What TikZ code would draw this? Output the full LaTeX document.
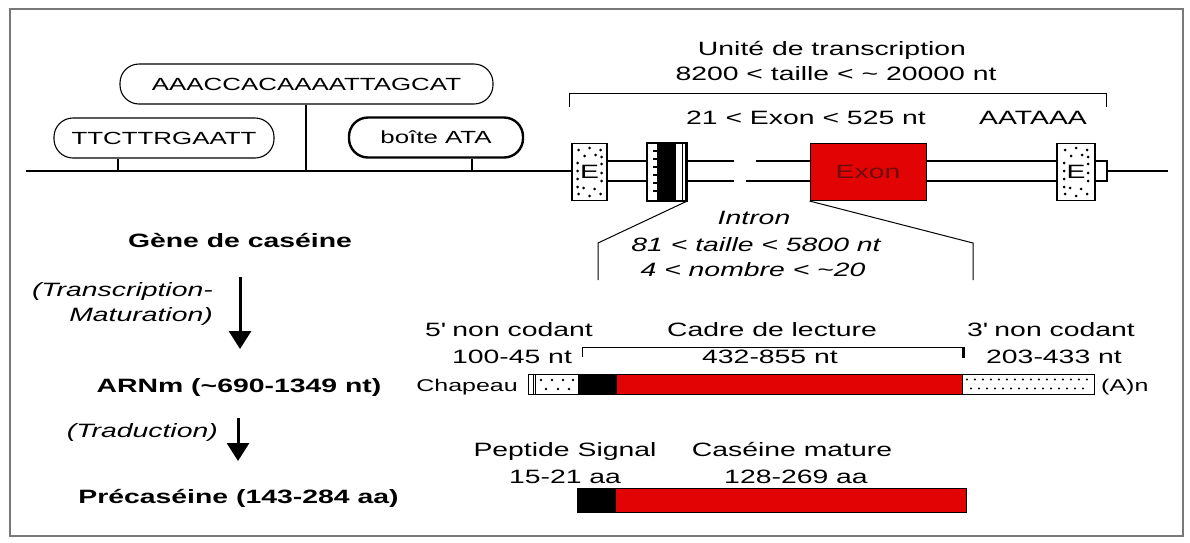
\documentclass[tikz,border=0pt]{standalone}
\usepackage{fontspec}
\setmainfont{Liberation Sans}[FakeStretch=1.47]
\usetikzlibrary{arrows.meta}
\definecolor{exred}{RGB}{226,4,4}
\definecolor{exdark}{RGB}{110,10,10}
\definecolor{framegray}{RGB}{120,120,120}
\begin{document}
\begin{tikzpicture}[x=1pt,y=-1pt,
 lbl/.style={inner sep=0pt, text height=13.8pt, text depth=0pt, font=\fontsize{19.3}{22}\selectfont},
 blbl/.style={lbl, font=\fontsize{19.3}{22}\selectfont\bfseries},
 ilbl/.style={lbl, font=\fontsize{19.3}{22}\selectfont\itshape},
 slbl/.style={inner sep=0pt, text height=12pt, text depth=0pt, font=\fontsize{17}{20}\selectfont},
 pill/.style={draw, line width=1.1pt, rounded corners=19pt, inner sep=0pt, minimum height=40pt, text height=12.6pt, text depth=0pt, font=\fontsize{17.6}{21}\selectfont},
 ln/.style={line width=1.5pt},
 thinln/.style={line width=1pt},
 ebox/.style={draw, fill=white, line width=1.5pt, inner sep=0pt, minimum width=35pt, minimum height=57pt},
 arr/.style={line width=3pt, -{Triangle[width=22pt,length=18pt]}},
]
\useasboundingbox (0,0) rectangle (1190,542);
\draw[framegray, line width=2pt] (10,9) rectangle (1183,536);

% ---------------- promoter region ----------------
\node[pill, minimum width=373pt] (p2) at (306.5,84) {AAACCACAAAATTAGCAT};
\node[pill, minimum width=220pt] (p1) at (164,138) {TTCTTRGAATT};
\node[pill, minimum width=174pt, line width=2.4pt] (p3) at (436,137.5) {boîte ATA};
\coordinate (L0) at (26,171);
\coordinate (s1) at (118,171);
\coordinate (s2) at (306,171);
\coordinate (s3) at (472,171);
\draw[ln] (s1) -- (s1 |- p1.south);
\draw[ln] (s2) -- (s2 |- p2.south);
\draw[ln] (s3) -- (s3 |- p3.south);

% ---------------- gene structure ----------------
\coordinate (yu) at (0,161);
\coordinate (yl) at (0,181);
\node[ebox] (E1) at (589.5,172) {};
\node[draw, fill=white, line width=1.5pt, inner sep=0pt, minimum width=39pt, minimum height=57pt] (B) at (666.5,172) {};
\node[draw, fill=exred, line width=1pt, inner sep=0pt, minimum width=116pt, minimum height=57pt, text height=13.8pt, text depth=0pt, font=\fontsize{19.3}{22}\selectfont, text=exdark] (X) at (868,172) {Exon};
\node[ebox, minimum width=38pt] (E2) at (1076,172) {};
\node[draw, fill=white, line width=1.5pt, inner sep=0pt, minimum width=12pt, minimum height=20pt] (T) at (1101,171) {};
\coordinate (R0) at (1168,171);
\coordinate (g1) at (734,161);
\coordinate (g2) at (734,181);
\coordinate (g3) at (756,161);
\coordinate (g4) at (746,181);

\draw[ln] (L0) -- (L0 -| E1.west);
\draw[ln] (E1.east |- yu) -- (B.west |- yu);
\draw[ln] (E1.east |- yl) -- (B.west |- yl);
\draw[ln] (B.east |- yu) -- (g1);
\draw[ln] (B.east |- yl) -- (g2);
\draw[ln] (g3) -- (X.west |- yu);
\draw[ln] (g4) -- (X.west |- yl);
\draw[ln] (X.east |- yu) -- (E2.west |- yu);
\draw[ln] (X.east |- yl) -- (E2.west |- yl);
\draw[ln] (T.east) -- (R0);

% E boxes: dots and letter
\foreach \b in {E1,E2}{
  \foreach \dx/\dy in {-11/-22,0/-24,11/-22,-5/-16,6/-17,-12/-9,12/-8,-12/7,12/9,-6/16,5/17,-11/22,0/24,11/22,12/-15,-12/15,-12/-1,12/1}
    \fill[shift={(\b.center)}] (\dx,\dy) circle (1.5pt);
  \node[lbl] at (\b.center) {E};
}
% black hatched box
\fill[black] (657,143.5) rectangle (676,200.5);
\draw[line width=1pt] (682,143.5) -- (682,200.5);
\foreach \yy in {151,159,167,175,183,191}
  \draw[line width=1.2pt] (653,\yy) -- (657,\yy);
\draw[line width=1.5pt] (B.north west) rectangle (B.south east);

% transcription unit bracket
\coordinate (u1) at (569,107);
\coordinate (u2) at (569,93);
\coordinate (u3) at (1106,93);
\coordinate (u4) at (1106,107);
\draw[thinln] (u1) -- (u2) -- (u3) -- (u4);
\node[lbl] (tunit) at (832,49) {Unité de transcription};
\node[lbl] (tsize) at (836,74) {8200 < taille < \textasciitilde{} 20000 nt};
\node[lbl] (texon) at (806,118) {21 < Exon < 525 nt};
\node[lbl] (taat) at (1033,118) {AATAAA};

% intron
\coordinate (i1) at (598,243);
\coordinate (i2) at (598,280);
\coordinate (i3) at (973,243);
\coordinate (i4) at (973,280);
\draw[thinln] (B.south east) -- (i1) -- (i2);
\draw[thinln] (X.south west) -- (i3) -- (i4);
\node[ilbl] (tin1) at (754,218) {Intron};
\node[ilbl] (tin2) at (756,245) {81 < taille < 5800 nt};
\node[ilbl] (tin3) at (753,270) {4 < nombre < \textasciitilde20};

% ---------------- left column ----------------
\node[blbl] (gene) at (240,241) {Gène de caséine};
\node[ilbl, anchor=east] (ttr1) at (213,290) {(Transcription-};
\node[ilbl, anchor=east] (ttr2) at (213,315) {Maturation)};
\node[blbl] (arn) at (239,386) {ARNm (\textasciitilde690-1349 nt)};
\node[ilbl, anchor=east] (ttrad) at (218,431) {(Traduction)};
\node[blbl] (prec) at (238.5,497) {Précaséine (143-284 aa)};
\coordinate (a1) at (240,277);
\coordinate (a2) at (240,349);
\coordinate (a3) at (238,418);
\coordinate (a4) at (238,461);
\draw[arr] (a1) -- (a2);
\draw[arr] (a3) -- (a4);

% ---------------- mRNA ----------------
\node[lbl] (m5) at (509,330) {5\textquotesingle{} non codant};
\node[lbl] (mc) at (772,330) {Cadre de lecture};
\node[lbl] (m3) at (1051,330) {3\textquotesingle{} non codant};
\node[lbl] (n5) at (512,357) {100-45 nt};
\node[lbl] (nc) at (770,357) {432-855 nt};
\node[lbl] (n3) at (1054,357) {203-433 nt};
\coordinate (c1) at (582,357);
\coordinate (c2) at (582,347);
\coordinate (c3) at (963,347);
\coordinate (c4) at (963,358);
\draw[thinln] (c1) -- (c2) -- (c3);
\draw[line width=3pt] (c3) -- (c4);

\node[inner sep=0pt, minimum width=565pt, minimum height=19pt] (mrna) at (811.5,384.5) {};
\fill[black] (578,375) rectangle (617,394);
\fill[exred] (617,375) rectangle (962,394);
\draw[line width=1pt] (533,375) -- (533,394);
\draw[line width=1pt] (535.5,375) -- (535.5,394);
\draw[line width=1pt] (962,375) -- (962,394);
\foreach \xx in {541,552,563,573}
  \fill (\xx,380) circle (1.4pt);
\foreach \xx in {546,558,569}
  \fill (\xx,389) circle (1.4pt);
\foreach \xx in {967,975,...,1087}
  \fill (\xx,379.5) circle (1.2pt);
\foreach \xx in {971,979,...,1089}
  \fill (\xx,388.5) circle (1.2pt);
\draw[line width=1.3pt] (mrna.north west) rectangle (mrna.south east);
\node[slbl, anchor=east] (chap) at (518,385) {Chapeau};
\node[slbl, anchor=west] (polya) at (1101,385) {(A)n};

% ---------------- protein ----------------
\node[lbl] (ps1) at (565,450) {Peptide Signal};
\node[lbl] (cm1) at (792,450) {Caséine mature};
\node[lbl] (ps2) at (565,477) {15-21 aa};
\node[lbl] (cm2) at (796,477) {128-269 aa};
\node[inner sep=0pt, minimum width=388pt, minimum height=23pt] (prot) at (772,500.5) {};
\fill[black] (578,489) rectangle (616,512);
\fill[exred] (616,489) rectangle (966,512);
\draw[line width=1.3pt] (prot.north west) rectangle (prot.south east);
\end{tikzpicture}
\end{document}
